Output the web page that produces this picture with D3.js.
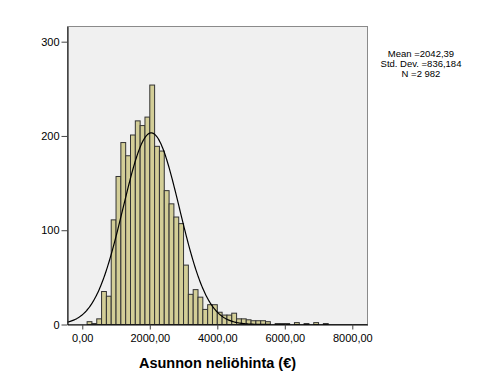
<!DOCTYPE html>
<html>
<head>
<meta charset="utf-8">
<script src="https://cdn.jsdelivr.net/npm/d3@7"></script>
<style>
  body { margin: 0; background: #fff; }
  text { font-family: "Liberation Sans", Arial, sans-serif; }
</style>
</head>
<body>
<div id="chart"></div>
<script>
const width = 490;
const height = 384;

// histogram data (bin width 1000/7, first bin starts at 0)
const binWidth = 1000 / 7;
const counts = [0, 3, 1, 6, 35, 30, 111, 157, 193, 179, 201, 216, 211, 220, 254,
    189, 184, 142, 128, 114, 107, 63, 32, 37, 29, 16, 21, 21, 13, 10, 10, 12,
    6, 6, 5, 4, 4, 4, 3, 0, 1, 1, 1, 0, 2, 0, 1, 0, 2, 0, 1];

const xTicks = [0, 2000, 4000, 6000, 8000];
const xTickLabels = ["0,00", "2000,00", "4000,00", "6000,00", "8000,00"];
const yTicks = [0, 100, 200, 300];

const mean = 2042.39;
const stdDev = 836.184;
const total = 2982;
const statLines = ["Mean =2042,39", "Std. Dev. =836,184", "N =2 982"];
const xTitle = "Asunnon neliöhinta (€)";

const plot = { left: 67.5, top: 26.5, right: 367.5, bottom: 324.5 };

const svg = d3.select("#chart").append("svg")
    .attr("width", width)
    .attr("height", height);

const x = d3.scaleLinear()
    .domain([-438, 8450])
    .range([plot.left, plot.right]);

const y = d3.scaleLinear()
    .domain([0, 316.1])
    .range([plot.bottom, plot.top]);

svg.append("defs").append("clipPath")
    .attr("id", "clip")
    .append("rect")
    .attr("x", plot.left)
    .attr("y", plot.top)
    .attr("width", plot.right - plot.left)
    .attr("height", plot.bottom - plot.top);

// plot background + frame
svg.append("rect")
    .attr("x", plot.left)
    .attr("y", plot.top)
    .attr("width", plot.right - plot.left)
    .attr("height", plot.bottom - plot.top)
    .attr("fill", "#f0f0f0")
    .attr("stroke", "#8a8a8a");

const bins = counts.map((c, i) => ({ x0: i * binWidth, x1: (i + 1) * binWidth, count: c }));

svg.append("g")
    .selectAll("rect")
    .data(bins.filter(d => d.count > 0))
    .enter().append("rect")
    .attr("x", d => x(d.x0))
    .attr("y", d => y(d.count))
    .attr("width", d => x(d.x1) - x(d.x0))
    .attr("height", d => y(0) - y(d.count))
    .attr("fill", "#d3ce97")
    .attr("stroke", "#333")
    .attr("stroke-width", 1);

// fitted normal curve
const curvePts = d3.range(-438, 8451, 20).map(v => {
    const z = (v - mean) / stdDev;
    return [v, total * binWidth / (stdDev * Math.sqrt(2 * Math.PI)) * Math.exp(-0.5 * z * z)];
});

svg.append("path")
    .datum(curvePts)
    .attr("clip-path", "url(#clip)")
    .attr("fill", "none")
    .attr("stroke", "#000")
    .attr("stroke-width", 1.2)
    .attr("d", d3.line().x(d => x(d[0])).y(d => y(d[1])));

// axes
const yAxis = svg.append("g")
    .attr("transform", `translate(${plot.left},0)`)
    .call(d3.axisLeft(y).tickValues(yTicks).tickSize(6).tickSizeOuter(0).tickPadding(2));

const xAxis = svg.append("g")
    .attr("transform", `translate(0,${plot.bottom})`)
    .call(d3.axisBottom(x).tickValues(xTicks).tickFormat((d, i) => xTickLabels[i])
        .tickSize(5).tickSizeOuter(0).tickPadding(5));

[xAxis, yAxis].forEach(a => {
    a.select(".domain").attr("stroke", "#000");
    a.selectAll(".tick line").attr("stroke", "#444");
    a.selectAll("text")
        .attr("fill", "#000")
        .style("font-size", "11px")
        .style("font-family", "\"Liberation Sans\", Arial, sans-serif");
});

// axis title
svg.append("text")
    .attr("x", (plot.left + plot.right) / 2)
    .attr("y", 367.5)
    .attr("text-anchor", "middle")
    .style("font-size", "14.5px")
    .style("font-weight", "bold")
    .text(xTitle);

// statistics
svg.append("g")
    .selectAll("text")
    .data(statLines)
    .enter().append("text")
    .attr("x", 421)
    .attr("y", (d, i) => 56.5 + i * 10)
    .attr("text-anchor", "middle")
    .style("font-size", "9.5px")
    .text(d => d);
</script>
</body>
</html>
